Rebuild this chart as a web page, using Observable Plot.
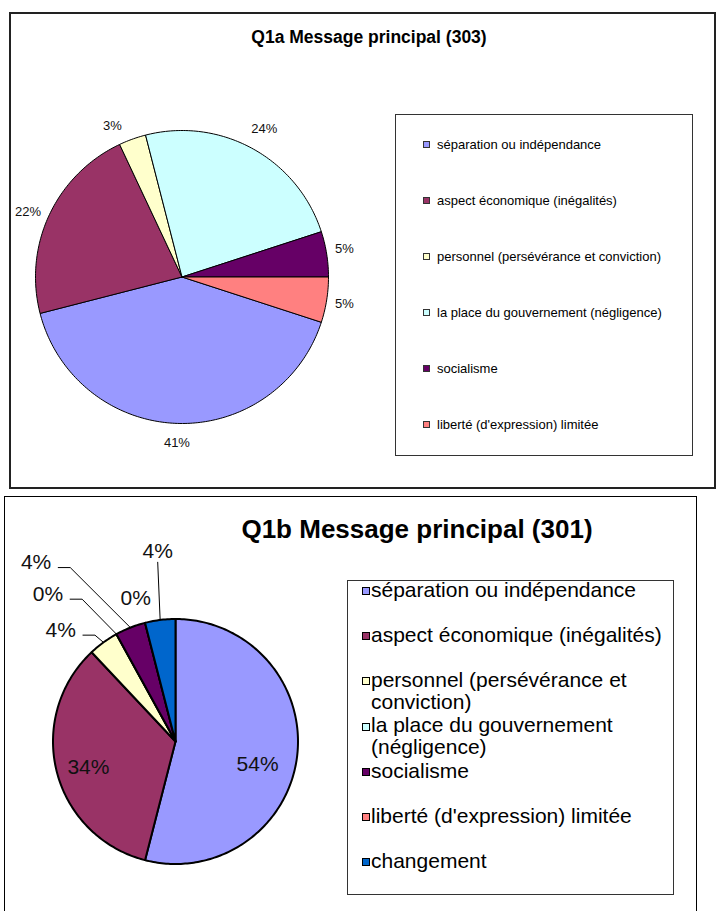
<!DOCTYPE html>
<html><head><meta charset="utf-8">
<script src="https://cdn.jsdelivr.net/npm/d3@7"></script>
<script src="https://cdn.jsdelivr.net/npm/@observablehq/plot@0.6"></script>
<style>
body{margin:0;background:#fff;font-family:"Liberation Sans",Arial,Helvetica,sans-serif;}
#page{position:relative;width:720px;height:911px;overflow:hidden;background:#fff;}
.box{position:absolute;box-sizing:border-box;background:#fff;}
.title{position:absolute;font-weight:bold;white-space:nowrap;transform:translateX(-50%);line-height:1;color:#000;z-index:3;}
.lgbox{position:absolute;box-sizing:border-box;background:#fff;z-index:2;}
.lgtext{position:absolute;color:#000;z-index:3;}
.sw{position:absolute;box-sizing:border-box;z-index:3;}
#plot{position:absolute;left:0;top:0;z-index:1;}
</style>
</head><body>
<div id="page"></div>
<script>
// ---------- data ----------
const categories = [
  "séparation ou indépendance",
  "aspect économique (inégalités)",
  "personnel (persévérance et conviction)",
  "la place du gouvernement (négligence)",
  "socialisme",
  "liberté (d'expression) limitée",
  "changement"
];
const colors = ["#9999FF","#993366","#FFFFCC","#CCFFFF","#660066","#FF8080","#0066CC"];

const titleA = "Q1a Message principal (303)";
const categoriesA = categories.slice(0, 6);
const valuesA = [41, 22, 3, 24, 5, 5];

const titleB = "Q1b Message principal (301)";
const categoriesB = categories;
const valuesB = [54, 34, 4, 0, 4, 0, 4];

// ---------- layout / style ----------
const W = 720, H = 911;
const pieA = {cx: 181.5, cy: 276.5, r: 146.5, start: 108, font: 13, stroke: 1, gap: 10, inside: false, leaders: false};
const pieB = {cx: 175, cy: 741, r: 122.5, start: 0, font: 21, stroke: 2, gap: 10, inside: true, leaders: true};
// small label adjustments (pixels) relative to the computed positions
const nudgeA = [[0,4],[0,7],[-14,3],[2,-2],[-2,-2],[-2,1]];
const nudgeB = [[-3,12],[-4,4],[-28,8],[-57,-19],[-86,-44],[-4,-4],[0,-49]];

const rad = d => d * Math.PI / 180;

function buildPie(cats, vals, cfg, nudge, tag) {
  const rows = cats.map((c, i) => ({cat: c, value: vals[i], i}));
  const arcs = d3.pie().sort(null).value(d => d.value)
    .startAngle(rad(cfg.start)).endAngle(rad(cfg.start) + 2 * Math.PI)(rows);
  const polys = [], labels = [], leaders = [];
  for (const a of arcs) {
    const id = tag + a.data.i;
    const span = a.endAngle - a.startAngle;
    const steps = Math.max(2, Math.ceil(span / rad(1)));
    polys.push({id, cat: a.data.cat, x: cfg.cx, y: cfg.cy});
    for (let k = 0; k <= steps; k++) {
      const t = a.startAngle + span * k / steps;
      polys.push({id, cat: a.data.cat, x: cfg.cx + cfg.r * Math.sin(t), y: cfg.cy - cfg.r * Math.cos(t)});
    }
    polys.push({id, cat: a.data.cat, x: cfg.cx, y: cfg.cy});

    const m = (a.startAngle + a.endAngle) / 2;
    const s = Math.sin(m), c = Math.cos(m);
    const txt = a.data.value + "%";
    const digits = String(a.data.value).length;
    const halfW = cfg.font * (0.556 * digits + 0.889) / 2;
    const halfH = cfg.font * 0.36;
    let d;
    if (cfg.inside && a.data.value >= 10) d = cfg.r * 0.7;
    else d = cfg.r + cfg.gap + halfW * Math.abs(s) + halfH * Math.abs(c);
    const lx = cfg.cx + d * s + nudge[a.data.i][0];
    const ly = cfg.cy - d * c + nudge[a.data.i][1];
    labels.push({x: lx, y: ly, text: txt});

    if (cfg.leaders && !(cfg.inside && a.data.value >= 10)) {
      const px = cfg.cx + cfg.r * s, py = cfg.cy - cfg.r * c;
      const dist = Math.hypot(lx - px, ly - py);
      if (dist > 35) {
        if (Math.abs(lx - px) < 20) {
          leaders.push({id, x: lx, y: ly + halfH + 3}, {id, x: px, y: py});
        } else {
          const sx = lx + halfW + 7, sy = ly + 5;
          leaders.push({id, x: sx, y: sy}, {id, x: sx + 12, y: sy}, {id, x: px, y: py});
        }
      }
    }
  }
  return {polys, labels, leaders};
}

const A = buildPie(categoriesA, valuesA, pieA, nudgeA, "a");
const B = buildPie(categoriesB, valuesB, pieB, nudgeB, "b");

const font = "Liberation Sans, Arial, Helvetica, sans-serif";
const chart = Plot.plot({
  width: W, height: H,
  margin: 0,
  style: {background: "transparent"},
  x: {domain: [0, W], range: [0, W], axis: null},
  y: {domain: [0, H], range: [0, H], axis: null},
  color: {domain: categories, range: colors},
  marks: [
    Plot.line(A.polys, {x: "x", y: "y", z: "id", fill: "cat", stroke: "#000", strokeWidth: pieA.stroke, strokeLinejoin: "round", curve: "linear"}),
    Plot.line(B.polys, {x: "x", y: "y", z: "id", fill: "cat", stroke: "#000", strokeWidth: pieB.stroke, strokeLinejoin: "round", curve: "linear"}),
    Plot.line(B.leaders, {x: "x", y: "y", z: "id", stroke: "#000", strokeWidth: 1, curve: "linear"}),
    Plot.text(A.labels, {x: "x", y: "y", text: "text", fontSize: pieA.font, fontFamily: font, fill: "#111", textAnchor: "middle", lineAnchor: "middle"}),
    Plot.text(B.labels, {x: "x", y: "y", text: "text", fontSize: pieB.font, fontFamily: font, fill: "#111", textAnchor: "middle", lineAnchor: "middle"})
  ]
});
chart.id = "plot";

// ---------- HTML frame, titles, legends ----------
const page = document.getElementById("page");
function el(cls, css, text) {
  const d = document.createElement("div");
  d.className = cls;
  Object.assign(d.style, css);
  if (text != null) d.textContent = text;
  page.appendChild(d);
  return d;
}
el("box", {left: "9px", top: "12px", width: "707px", height: "477px", border: "2px solid #222"});
el("box", {left: "4px", top: "496px", width: "693px", height: "440px", border: "1px solid #000"});
page.appendChild(chart);

el("title", {left: "369px", top: (44 - 0.8465 * 17.5) + "px", fontSize: "17.5px"}, titleA);
el("title", {left: "417px", top: (538 - 0.8465 * 26) + "px", fontSize: "26px"}, titleB);

function legend(cats, cfg) {
  el("lgbox", {left: cfg.box[0] + "px", top: cfg.box[1] + "px", width: cfg.box[2] + "px", height: cfg.box[3] + "px", border: "1px solid #333"});
  cats.forEach((c, i) => {
    const base = cfg.base0 + i * cfg.step;
    const col = colors[categories.indexOf(c)];
    el("sw", {left: cfg.swLeft + "px", top: (base - cfg.swOff - cfg.sw / 2) + "px", width: cfg.sw + "px", height: cfg.sw + "px",
      background: col, border: cfg.swBorder});
    el("lgtext", {left: cfg.textLeft + "px", top: (base - cfg.baseOff) + "px", width: cfg.textWidth + "px",
      fontSize: cfg.font + "px", lineHeight: cfg.lh + "px"}, c);
  });
}
legend(categoriesA, {box: [395, 114, 298, 342], base0: 149, step: 56, swLeft: 423, sw: 7, swOff: 5, swBorder: "1px solid #333",
  textLeft: 437, textWidth: 250, font: 13, lh: 15, baseOff: 12});
legend(categoriesB, {box: [347, 580, 327, 315], base0: 597, step: 45.2, swLeft: 362, sw: 8, swOff: 6, swBorder: "1.5px solid #000",
  textLeft: 371, textWidth: 300, font: 21, lh: 22, baseOff: 18.3});
</script>
</body></html>
